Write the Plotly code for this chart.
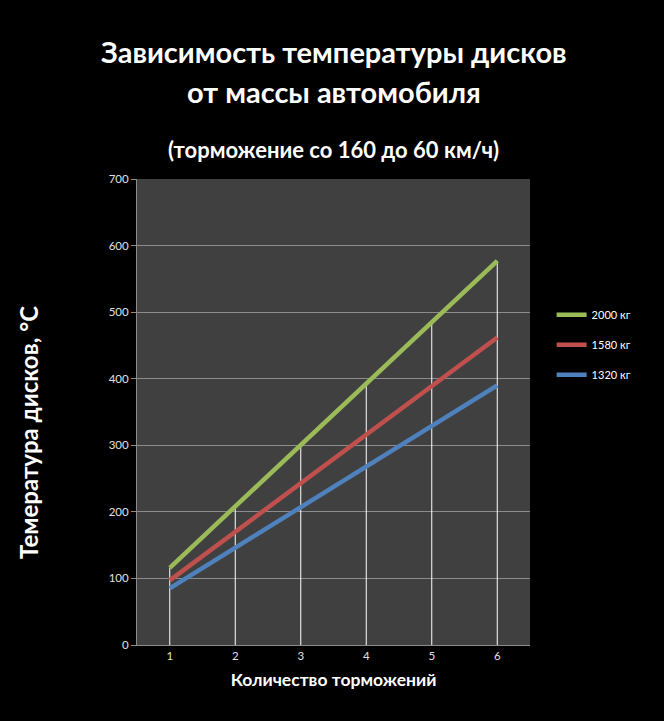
import plotly.graph_objects as go

# data
brakings = ["1", "2", "3", "4", "5", "6"]
temp_2000 = [116, 208, 300, 393, 486, 577]
temp_1580 = [97, 170, 243, 316, 389, 462]
temp_1320 = [85, 146, 207, 268, 329, 390]
series_names = ["2000 кг", "1580 кг", "1320 кг"]
series_colors = ["#9BBB59", "#C0504D", "#4F81BD"]

FONT = "Lato"

fig = go.Figure()

# white drop lines from the top series down to the axis
drop_x, drop_y = [], []
for cat, val in zip(brakings, temp_2000):
    drop_x += [cat, cat, None]
    drop_y += [0, val, None]
fig.add_trace(go.Scatter(
    x=drop_x, y=drop_y, mode="lines",
    line=dict(color="white", width=1),
    showlegend=False, hoverinfo="skip"
))

for name, vals, color in zip(series_names, [temp_2000, temp_1580, temp_1320], series_colors):
    fig.add_trace(go.Scatter(
        x=brakings, y=vals, mode="lines", name=name,
        line=dict(color=color, width=4.5),
        legendgroup=name
    ))

fig.update_layout(
    width=664, height=721,
    margin=dict(l=137, r=134, t=179, b=76),
    paper_bgcolor="black",
    plot_bgcolor="#404040",
    font=dict(family=FONT, color="white"),
    legend=dict(
        x=1.055, y=0.74, xanchor="left", yanchor="top",
        font=dict(size=11, color="white", family=FONT),
        tracegroupgap=11, bgcolor="rgba(0,0,0,0)"
    ),
    annotations=[
        dict(text="<b>Зависимость температуры дисков</b>", x=0.5, xref="paper",
             y=(645 - 52) / 466, yref="paper", xanchor="center", yanchor="middle",
             showarrow=False, font=dict(size=29, color="white", family=FONT)),
        dict(text="<b>от массы автомобиля</b>", x=0.5, xref="paper",
             y=(645 - 92) / 466, yref="paper", xanchor="center", yanchor="middle",
             showarrow=False, font=dict(size=29, color="white", family=FONT)),
        dict(text="<b>(торможение со 160 до 60 км/ч)</b>", x=0.5, xref="paper",
             y=(645 - 149) / 466, yref="paper", xanchor="center", yanchor="middle",
             showarrow=False, font=dict(size=22, color="white", family=FONT)),
        # y axis title, placed by hand to sit where the original one is
        dict(text="<b>Темература дисков, °C</b>", x=(28 - 137) / 393, xref="paper",
             y=(645 - 433) / 466, yref="paper", xanchor="center", yanchor="middle",
             textangle=-90, showarrow=False,
             font=dict(size=24, color="white", family=FONT)),
    ],
)

fig.update_xaxes(
    type="category", range=[-0.5, 5.5],
    showgrid=False, zeroline=False,
    showline=True, linecolor="#8c8c8c", linewidth=1,
    ticks="", tickfont=dict(size=11.5, color="#e0e0e0"),
    title=dict(text="<b>Количество торможений</b>", font=dict(size=17.5, color="white"), standoff=12),
)
fig.update_yaxes(
    range=[0, 700], dtick=100,
    showgrid=True, gridcolor="#8c8c8c", gridwidth=1, zeroline=False,
    showline=True, linecolor="#8c8c8c", linewidth=1,
    ticks="outside", ticklen=5, tickcolor="#8c8c8c",
    tickfont=dict(size=11.5, color="#e0e0e0"),
)

fig.write_html(
    "out.html",
    config={"displayModeBar": False},
    post_script="document.body.style.margin='0';document.body.style.background='black';",
)
